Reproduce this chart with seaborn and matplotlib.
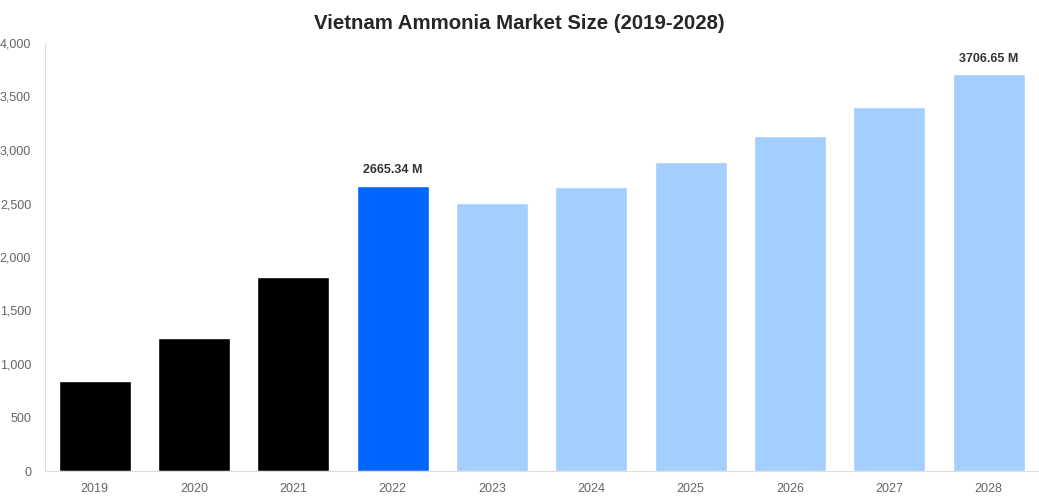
import pandas as pd
import matplotlib.pyplot as plt
import seaborn as sns

# Plot Configurations
sns.set_style("white")
plt.rcParams['font.family'] = ['Liberation Sans', 'DejaVu Sans']

# Data
years = ["2019", "2020", "2021", "2022", "2023", "2024", "2025", "2026", "2027", "2028"]
values = [841, 1240, 1813, 2665.34, 2502, 2657, 2885, 3131, 3402, 3706.65]
colors = ["#000000", "#000000", "#000000", "#0066FF",
          "#A2CFFE", "#A2CFFE", "#A2CFFE", "#A2CFFE", "#A2CFFE", "#A2CFFE"]
labelled = {"2022": "2665.34 M", "2028": "3706.65 M"}

df = pd.DataFrame({"year": years, "value": values})

fig = plt.figure(figsize=(10.39, 5), dpi=100)
ax = fig.add_axes([0.0433, 0.058, 0.956, 0.856])

sns.barplot(data=df, x="year", y="value", hue="year", palette=colors,
            legend=False, width=0.725, ax=ax, saturation=1)

for i, (yr, v) in enumerate(zip(years, values)):
    if yr in labelled:
        ax.annotate(labelled[yr], (i, v), xytext=(0, 7), textcoords="offset points",
                    ha="center", va="bottom", fontsize=9, fontweight="bold", color="#333333")

ax.set_ylim(0, 4000)
ax.set_xlim(-0.5, len(years) - 0.5)
ax.set_yticks(range(0, 4001, 500))
ax.set_yticklabels([f"{t:,}" for t in range(0, 4001, 500)])
ax.set(xlabel=None, ylabel=None)
ax.tick_params(axis="both", labelsize=9, colors="#666666", length=0)
ax.tick_params(axis="x", pad=9)
ax.tick_params(axis="y", pad=10)

for side in ["top", "right"]:
    ax.spines[side].set_visible(False)
for side in ["left", "bottom"]:
    ax.spines[side].set_color("#dddddd")
    ax.spines[side].set_linewidth(0.8)

fig.suptitle("Vietnam Ammonia Market Size (2019-2028)", fontsize=14.7, fontweight="bold",
             y=0.972, va="top")

fig.savefig("out.png", dpi=100)
